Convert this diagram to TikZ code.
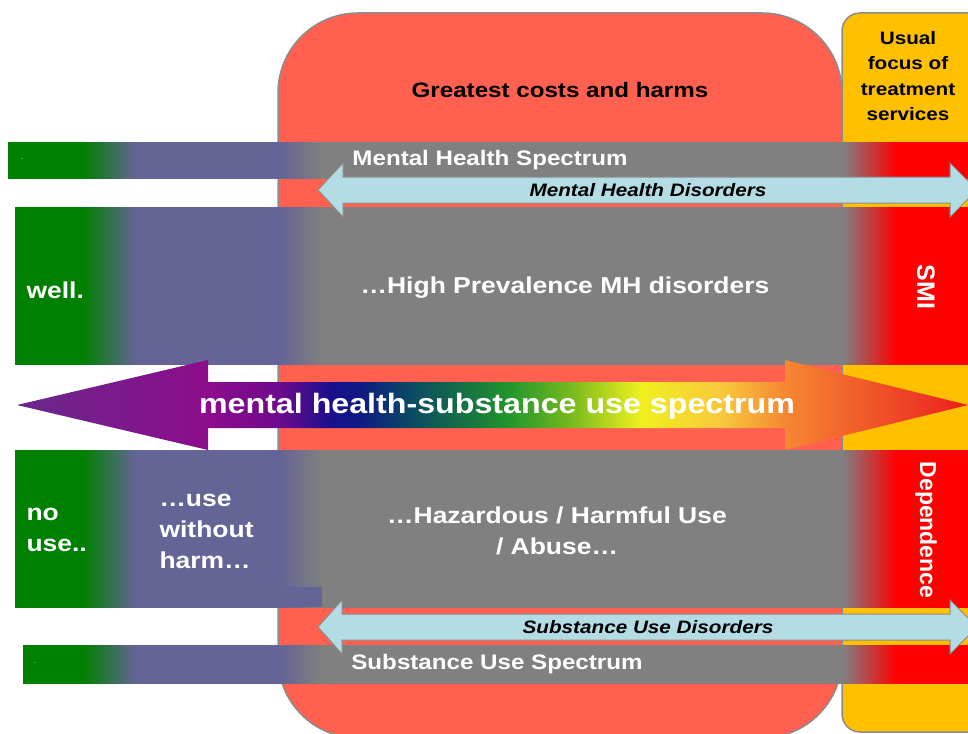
\documentclass[tikz,border=0pt]{standalone}
\usepackage[usenames,dvipsnames,svgnames,table]{xcolor}
\usepackage{fontspec}
\setmainfont{Liberation Sans}[FakeStretch=1.15]
\newfontfamily\uprightfont{Liberation Sans}
\usepackage{tikz}

\definecolor{harmred}{RGB}{255,96,80}
\definecolor{focusyellow}{RGB}{255,192,0}
\definecolor{wellgreen}{RGB}{0,128,0}
\definecolor{usepurple}{RGB}{100,100,150}
\definecolor{bargray}{RGB}{128,128,128}
\definecolor{smired}{RGB}{255,0,0}
\definecolor{disorderblue}{RGB}{180,220,228}
\definecolor{edgegray}{RGB}{140,140,140}
\definecolor{rbviolet}{RGB}{105,40,140}
\definecolor{rbpurple}{RGB}{140,12,140}
\definecolor{rbindigo}{RGB}{110,10,140}
\definecolor{rbblue}{RGB}{25,15,140}
\definecolor{rbnavy}{RGB}{15,25,130}
\definecolor{rbteal}{RGB}{10,75,100}
\definecolor{rbsea}{RGB}{20,110,70}
\definecolor{rbgreen}{RGB}{35,150,45}
\definecolor{rblime}{RGB}{120,185,30}
\definecolor{rbyellow}{RGB}{240,240,30}
\definecolor{rbgold}{RGB}{248,200,60}
\definecolor{rborange}{RGB}{245,135,50}
\definecolor{rbflame}{RGB}{240,80,40}
\definecolor{rbred}{RGB}{235,30,30}

\pgfdeclarehorizontalshading{spectrumbar}{100bp}{color(0bp)=(wellgreen); color(29.3bp)=(wellgreen); color(32bp)=(usepurple); color(39.5bp)=(usepurple); color(41.6bp)=(bargray); color(68.5bp)=(bargray); color(71.3bp)=(smired); color(100bp)=(smired)}
\pgfdeclarehorizontalshading{rainbow}{100bp}{color(0bp)=(rbviolet); color(25bp)=(rbviolet); color(35.1bp)=(rbpurple); color(38.8bp)=(rbindigo); color(41.5bp)=(rbblue); color(43bp)=(rbnavy); color(45.7bp)=(rbteal); color(48.3bp)=(rbsea); color(50.9bp)=(rbgreen); color(54.1bp)=(rblime); color(57.8bp)=(rbyellow); color(62bp)=(rbgold); color(65.4bp)=(rborange); color(70.4bp)=(rbflame); color(75bp)=(rbred); color(100bp)=(rbred)}

\begin{document}
\begin{tikzpicture}[x=1pt, y=-1pt,
	bartext/.style={text=white, font=\bfseries\fontsize{21}{25}\selectfont},
	blocktext/.style={text=white, font=\bfseries\fontsize{23}{31}\selectfont},
	sidetext/.style={text=white, rotate=-90},
	dashmark/.style={text=wellgreen!30, font=\fontsize{6}{6}\selectfont},
	disorder/.style={fill=disorderblue, draw=edgegray, line width=1pt},
	disordertext/.style={font=\bfseries\itshape\fontsize{18}{22}\selectfont},
	spectrum fill/.style={path picture={\shade[shading=spectrumbar] (0,0) rectangle (968,733);}}]
	\useasboundingbox (0,0) rectangle (968,733);

	% cost and treatment regions
	\draw[fill=harmred, draw=edgegray, line width=1.5pt, rounded corners=80pt] (278,13) rectangle (842,738);
	\draw[fill=focusyellow, draw=edgegray, line width=1.5pt, rounded corners=18pt] (842,13) rectangle (995,732);
	\node[font=\bfseries\fontsize{21}{25}\selectfont] (harms) at (560,90) {Greatest costs and harms};
	\node[align=center, font=\bfseries\fontsize{18}{25.5}\selectfont] (focus) at (908,76) {Usual\\focus of\\treatment\\services};

	% mental health side
	\path[spectrum fill] (8,142) rectangle (968,178);
	\node[bartext] (mhspec) at (490,160) {Mental Health Spectrum};
	\node[dashmark] (mhdash) at (22,160) {-};
	\path[spectrum fill] (15,207) rectangle (968,364);
	\node[blocktext, anchor=west] (well) at (23,290) {well.};
	\node[blocktext] (mhhigh) at (565,288) {…High Prevalence MH disorders};
	\node[sidetext, font=\uprightfont\bfseries\fontsize{25}{30}\selectfont] (smi) at (926,287) {SMI};

	% substance use side
	\path[spectrum fill] (15,450) rectangle (968,607);
	\fill[usepurple] (270,587) rectangle (322,607);
	\node[blocktext, align=left, anchor=west] (nouse) at (23,530) {no\\use..};
	\node[blocktext, align=left, anchor=west] (harmless) at (156,531) {…use\\without\\harm…};
	\node[blocktext, align=center] (hazard) at (557,531) {…Hazardous / Harmful Use\\/ Abuse…};
	\node[sidetext, font=\uprightfont\bfseries\fontsize{23}{28}\selectfont] (dep) at (926,530) {Dependence};
	\path[spectrum fill] (23,645) rectangle (968,683);
	\node[bartext] (suspec) at (497,664) {Substance Use Spectrum};
	\node[dashmark] (sudash) at (35,664) {-};

	% the joint spectrum
	\shade[shading=rainbow] (17,405) -- (208,360) -- (208,382) -- (785,382) -- (785,360) -- (968,405) -- (785,450) -- (785,428) -- (208,428) -- (208,450) -- cycle;
	\node[text=white, font=\bfseries\fontsize{28}{32}\selectfont] (joint) at (497,406) {mental health-substance use spectrum};

	% disorder ranges
	\draw[disorder] (318,190) -- (343,163) -- (343,177) -- (950,177) -- (950,163) -- (977,190) -- (950,217) -- (950,203) -- (343,203) -- (343,217) -- cycle;
	\node[disordertext] (mhdis) at (648,190) {Mental Health Disorders};
	\draw[disorder] (318,627) -- (342,600) -- (342,614) -- (950,614) -- (950,600) -- (977,627) -- (950,654) -- (950,640) -- (342,640) -- (342,654) -- cycle;
	\node[disordertext] (sudis) at (648,627) {Substance Use Disorders};
\end{tikzpicture}
\end{document}
